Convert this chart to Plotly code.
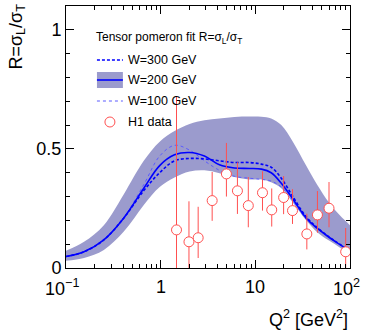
import math
import plotly.graph_objects as go

# model curves (Q2 in GeV^2)
q2_curve = [0.1, 0.155, 0.251, 0.408, 0.663, 0.976, 1.40, 2.02, 2.90, 4.18, 6.01, 8.64, 11.6, 14.7, 18.8,
            24.9, 34.4, 45, 60, 78.5, 100]
r_w200 = [0.048, 0.068, 0.118, 0.21, 0.335, 0.43, 0.475, 0.485, 0.47, 0.433, 0.42, 0.418, 0.415, 0.40, 0.356,
          0.29, 0.21, 0.167, 0.129, 0.098, 0.07]
r_w300 = [0.048, 0.068, 0.118, 0.21, 0.325, 0.40, 0.45, 0.46, 0.458, 0.45, 0.443, 0.443, 0.436, 0.423, 0.377,
          0.30, 0.215, 0.17, 0.131, 0.099, 0.071]
r_w100 = [0.048, 0.068, 0.118, 0.212, 0.35, 0.47, 0.515, 0.495, 0.45, 0.41, 0.385, 0.377, 0.372, 0.365, 0.34,
          0.283, 0.205, 0.165, 0.128, 0.097, 0.07]
band_hi = [0.072, 0.11, 0.18, 0.31, 0.45, 0.53, 0.575, 0.605, 0.62, 0.628, 0.634, 0.636, 0.635, 0.628, 0.60,
           0.53, 0.43, 0.35, 0.275, 0.22, 0.18]
band_lo = [0.030, 0.042, 0.076, 0.153, 0.265, 0.34, 0.38, 0.405, 0.41, 0.398, 0.382, 0.372, 0.372, 0.36, 0.335,
           0.275, 0.20, 0.15, 0.115, 0.085, 0.055]

# H1 data
q2_h1 = [1.47, 1.99, 2.49, 3.5, 4.95, 6.47, 8.43, 11.9, 14.9, 19.9, 24.7, 35, 45.3, 60, 90]
r_h1 = [0.16, 0.11, 0.127, 0.283, 0.395, 0.324, 0.262, 0.316, 0.244, 0.296, 0.241, 0.143, 0.223, 0.251, 0.068]
err_up = [0.56, 0.17, 0.13, 0.12, 0.13, 0.12, 0.12, 0.09, 0.09, 0.09, 0.09, 0.085, 0.10, 0.11, 0.10]
err_dn = [0.40, 0.30, 0.085, 0.085, 0.095, 0.097, 0.091, 0.075, 0.07, 0.07, 0.056, 0.065, 0.075, 0.08, 0.12]

x_ticks = [0.1, 1, 10, 100]
x_ticktext = ["10<sup>−1</sup>", "1", "10", "10<sup>2</sup>"]
x_tickshift = [-4, 0, 0, -4]
x_minor = [m * d for d in (0.1, 1, 10) for m in range(2, 10)]

band_col = "rgb(155,155,205)"
blue = "rgb(0,0,255)"
light_blue = "rgb(90,90,255)"
red = "rgb(255,80,80)"
font = "Liberation Sans, Arial, sans-serif"

fig = go.Figure()
fig.add_trace(go.Scatter(x=q2_curve, y=band_lo, mode="lines", line=dict(width=0, shape="spline"),
                         hoverinfo="skip", showlegend=False))
fig.add_trace(go.Scatter(x=q2_curve, y=band_hi, mode="lines", line=dict(width=0, shape="spline"),
                         fill="tonexty", fillcolor=band_col, showlegend=False))
fig.add_trace(go.Scatter(x=q2_curve, y=r_w100, mode="lines", showlegend=False,
                         line=dict(color=light_blue, width=1, dash="dot", shape="spline")))
fig.add_trace(go.Scatter(x=q2_curve, y=r_w300, mode="lines", showlegend=False,
                         line=dict(color=blue, width=1.6, dash="3px,2px", shape="spline")))
fig.add_trace(go.Scatter(x=q2_curve, y=r_w200, mode="lines", showlegend=False,
                         line=dict(color=blue, width=1.6, shape="spline")))
fig.add_trace(go.Scatter(x=q2_h1, y=r_h1, mode="markers", showlegend=False,
                         error_y=dict(type="data", array=err_up, arrayminus=err_dn, width=0,
                                      color=red, thickness=1),
                         marker=dict(symbol="circle", size=10, color="white",
                                     line=dict(color=red, width=1))))

# plot area in pixels: x 66..350.5, y 6..268
def px(x):
    return (x - 66) / 284.5


def py(y):
    return (268 - y) / 262


shapes = [
    dict(type="line", xref="paper", yref="paper", x0=px(97), x1=px(123), y0=py(60), y1=py(60),
         line=dict(color=blue, width=1.6, dash="3px,2px")),
    dict(type="rect", xref="paper", yref="paper", x0=px(97), x1=px(123), y0=py(88), y1=py(72),
         fillcolor=band_col, line=dict(width=0)),
    dict(type="line", xref="paper", yref="paper", x0=px(97), x1=px(123), y0=py(80), y1=py(80),
         line=dict(color=blue, width=1.6)),
    dict(type="line", xref="paper", yref="paper", x0=px(97), x1=px(123), y0=py(101), y1=py(101),
         line=dict(color=light_blue, width=1, dash="dot")),
    dict(type="circle", xref="paper", yref="paper", xsizemode="pixel", ysizemode="pixel",
         xanchor=px(110), yanchor=py(122), x0=-5, x1=5, y0=-5, y1=5,
         line=dict(color=red, width=1), fillcolor="white"),
]

annotations = [
    dict(text="Tensor pomeron fit R=σ<sub>L</sub>/σ<sub>T</sub>", x=px(94), y=py(38),
         xanchor="left", yanchor="middle", font=dict(size=12)),
    dict(text="W=300 GeV", x=px(126), y=py(60), xanchor="left", yanchor="middle"),
    dict(text="W=200 GeV", x=px(126), y=py(80), xanchor="left", yanchor="middle"),
    dict(text="W=100 GeV", x=px(126), y=py(101), xanchor="left", yanchor="middle"),
    dict(text="H1 data", x=px(126), y=py(122), xanchor="left", yanchor="middle"),
    dict(text="R=σ<sub>L</sub>/σ<sub>T</sub>", x=px(4), y=py(2), textangle=-90,
         xanchor="left", yanchor="top", font=dict(size=18)),
    dict(text="Q<sup>2</sup> [GeV<sup>2</sup>]", x=px(351), y=py(318),
         xanchor="right", yanchor="middle", font=dict(size=18)),
]
for a in annotations:
    a.update(xref="paper", yref="paper", showarrow=False)
    a.setdefault("font", dict(size=12.5))

# x tick labels placed under the ticks (ROOT style, end labels pulled inside)
for v, t, s in zip(x_ticks, x_ticktext, x_tickshift):
    annotations.append(dict(text=t, x=math.log10(v), xref="x", y=py(287), yref="paper",
                            xanchor="center", yanchor="middle", xshift=s, showarrow=False,
                            font=dict(size=18)))

fig.update_layout(
    width=366, height=336,
    margin=dict(l=66, r=15.5, t=6, b=68),
    paper_bgcolor="white", plot_bgcolor="white",
    font=dict(family=font, color="black", size=12.5),
    showlegend=False,
    shapes=shapes,
    annotations=annotations,
    xaxis=dict(type="log", range=[-1, 2], showgrid=False, zeroline=False,
               showline=True, linecolor="black", linewidth=1, mirror="allticks",
               ticks="inside", ticklen=8, tickcolor="black",
               tickvals=x_ticks, showticklabels=False,
               minor=dict(ticks="inside", ticklen=4, tickcolor="black", tickvals=x_minor,
                          showgrid=False)),
    yaxis=dict(range=[0, 1.1], showgrid=False, zeroline=False,
               showline=True, linecolor="black", linewidth=1, mirror="allticks",
               ticks="inside", ticklen=8, tickcolor="black",
               tickvals=[0, 0.5, 1], ticktext=["0", "0.5", "1"], tickfont=dict(size=18),
               minor=dict(ticks="inside", ticklen=4, tickcolor="black", dtick=0.1, showgrid=False)),
)

# the page body has a default 8px margin; drop it so the figure sits at the window corner
fig.write_html("out.html", config={"displayModeBar": False},
               post_script="document.body.style.margin='0';")
